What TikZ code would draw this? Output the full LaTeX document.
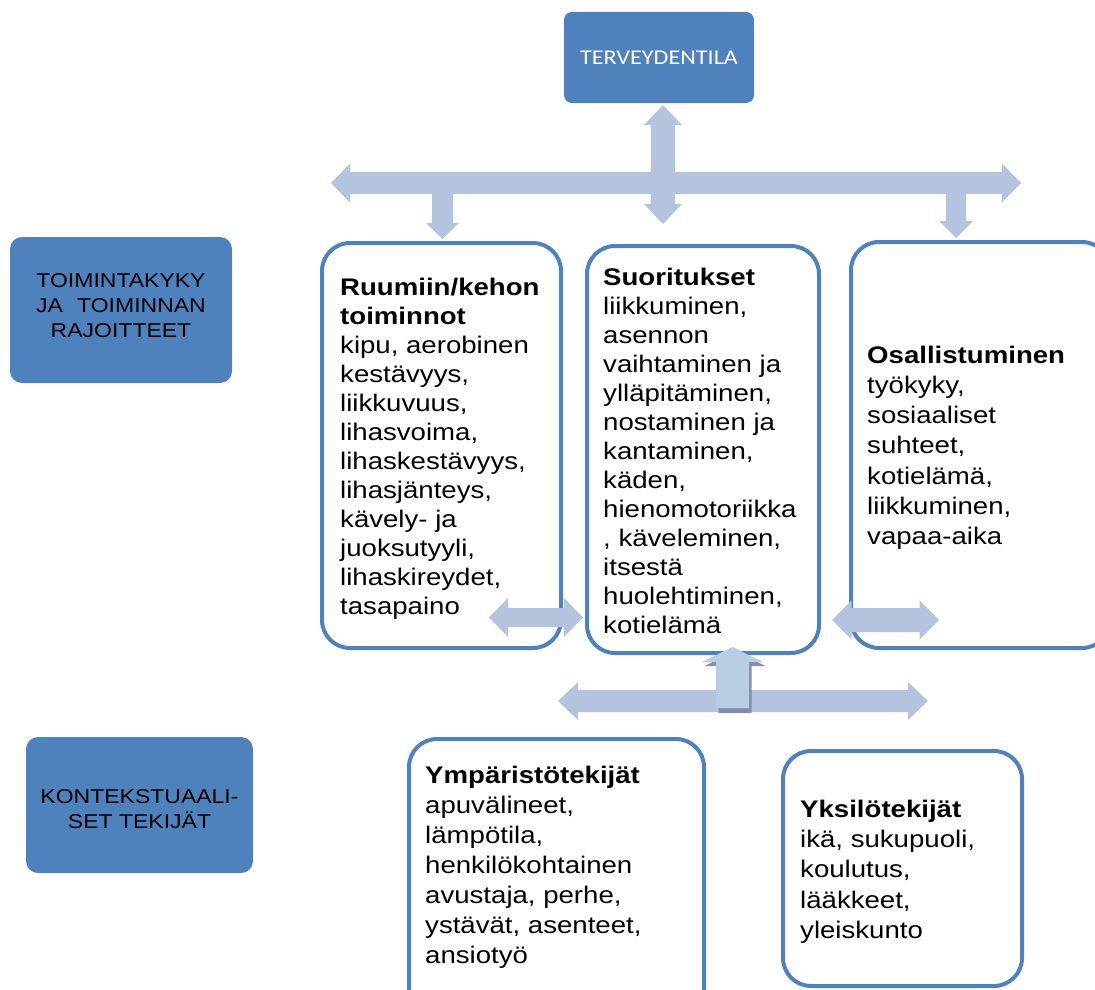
\documentclass[tikz,border=0pt]{standalone}
\usepackage{fontspec}
\setmainfont{Liberation Sans}[FakeStretch=1.15]
\newfontfamily\calib{Carlito}[FakeStretch=1.15]
\definecolor{boxblue}{HTML}{4F81BD}
\definecolor{arrcol}{HTML}{B4C4DF}
\definecolor{arrlight}{HTML}{B9CDE5}
\definecolor{arrshadow}{HTML}{7F90AA}
\tikzset{
  headbox/.style={fill=boxblue, draw=none, rounded corners=12pt, inner sep=0pt, outer sep=0pt, anchor=north west},
  bodybox/.style={draw=boxblue, fill=white, line width=4pt, rounded corners=28pt, inner sep=0pt, outer sep=0pt, anchor=north west},
  bodytext/.style={anchor=north west, inner sep=0pt, align=left},
  labeltext/.style={align=center, inner sep=0pt, font=\fontsize{20}{25}\selectfont},
  blockarrow/.style={fill=arrcol, draw=none},
}
% horizontal double block arrow: x1, x2, y, shaft half, head half, head length
\newcommand\HDA[7][blockarrow]{%
  \fill[#1] (#2,#4) -- (#2+#7,#4-#6) -- (#2+#7,#4-#5) -- (#3-#7,#4-#5) -- (#3-#7,#4-#6) -- (#3,#4)
    -- (#3-#7,#4+#6) -- (#3-#7,#4+#5) -- (#2+#7,#4+#5) -- (#2+#7,#4+#6) -- cycle;}
% vertical double block arrow: x, y1, y2, shaft half, head half, head length
\newcommand\VDA[7][blockarrow]{%
  \fill[#1] (#2,#3) -- (#2+#6,#3+#7) -- (#2+#5,#3+#7) -- (#2+#5,#4-#7) -- (#2+#6,#4-#7) -- (#2,#4)
    -- (#2-#6,#4-#7) -- (#2-#5,#4-#7) -- (#2-#5,#3+#7) -- (#2-#6,#3+#7) -- cycle;}
% single vertical block arrow: x, y start, y head base, y tip, shaft half, head half
\newcommand\VSA[7][blockarrow]{%
  \fill[#1] (#2-#6,#3) -- (#2-#6,#4) -- (#2-#7,#4) -- (#2,#5) -- (#2+#7,#4) -- (#2+#6,#4) -- (#2+#6,#3) -- cycle;}
\begin{document}
\begin{tikzpicture}[x=1pt,y=-1pt]
\useasboundingbox (0,0) rectangle (1095,990);
\clip (0,0) rectangle (1095,990);

% heading boxes
\node[headbox, rounded corners=8pt, minimum width=190pt, minimum height=91pt] (tila) at (564,12) {};
\node[text=white, font=\calib\fontsize{21}{25}\selectfont, inner sep=0pt] (tilat) at (tila.center) {TERVEYDENTILA};
\node[headbox, minimum width=222pt, minimum height=146pt] (tk) at (10,237) {};
\node[labeltext] (tkt) at (121,306) {TOIMINTAKYKY\\JA\hspace{0.39em} TOIMINNAN\\RAJOITTEET};
\node[headbox, minimum width=227pt, minimum height=136pt] (kt) at (26,737) {};
\node[labeltext] (ktt) at (139.5,809) {KONTEKSTUAALI-\\SET TEKIJÄT};

% upper arrows
\VDA{663}{105}{224}{12}{19}{20}
\HDA{331}{1021}{183}{11}{19.5}{19}
\VSA{442.5}{190}{223}{239}{10.5}{16.5}
\VSA{956}{190}{221}{238}{10}{17}

% body boxes
\node[bodybox, minimum width=239pt, minimum height=405pt] (body) at (322,243) {};
\node[bodybox, minimum width=232pt, minimum height=407pt] (act) at (587,246) {};
\node[bodybox, minimum width=259pt, minimum height=406pt] (part) at (851,242) {};
\node[bodybox, minimum width=295pt, minimum height=280pt] (env) at (409,739) {};
\node[bodybox, minimum width=239pt, minimum height=235pt] (pers) at (783,751) {};

\node[bodytext, font=\fontsize{24}{29}\selectfont] (bodyt) at (340,277.5)
  {\textbf{Ruumiin/kehon}\\\textbf{toiminnot}\\kipu, aerobinen\\kestävyys,\\liikkuvuus,\\lihasvoima,\\lihaskestävyys,\\lihasjänteys,\\kävely- ja\\juoksutyyli,\\lihaskireydet,\\tasapaino};
\node[bodytext, font=\fontsize{24}{29}\selectfont] (actt) at (603,267.5)
  {\textbf{Suoritukset}\\liikkuminen,\\asennon\\vaihtaminen ja\\ylläpitäminen,\\nostaminen ja\\kantaminen,\\käden,\\hienomotoriikka\\, käveleminen,\\itsestä\\huolehtiminen,\\kotielämä};
\node[bodytext, font=\fontsize{24}{30.3}\selectfont] (partt) at (867,345.5)
  {\textbf{Osallistuminen}\\työkyky,\\sosiaaliset\\suhteet,\\kotielämä,\\liikkuminen,\\vapaa-aika};
\node[bodytext, font=\fontsize{24}{30}\selectfont] (envt) at (425,765.5)
  {\textbf{Ympäristötekijät}\\apuvälineet,\\lämpötila,\\henkilökohtainen\\avustaja, perhe,\\ystävät, asenteet,\\ansiotyö};
\node[bodytext, font=\fontsize{24}{30.3}\selectfont] (perst) at (800,799.5)
  {\textbf{Yksilötekijät}\\ikä, sukupuoli,\\koulutus,\\lääkkeet,\\yleiskunto};

% small arrows between boxes
\HDA{489}{583}{617.5}{9.5}{19.5}{19}
\HDA{832}{939}{620}{12}{19.5}{19.5}

% lower arrows
\HDA{558}{928}{701}{11}{19}{20}
\VSA[fill=arrshadow]{735}{713}{666}{651}{16.5}{30.5}
\VSA[fill=arrlight]{732.5}{708}{662}{647}{16.5}{30.5}
\end{tikzpicture}
\end{document}
